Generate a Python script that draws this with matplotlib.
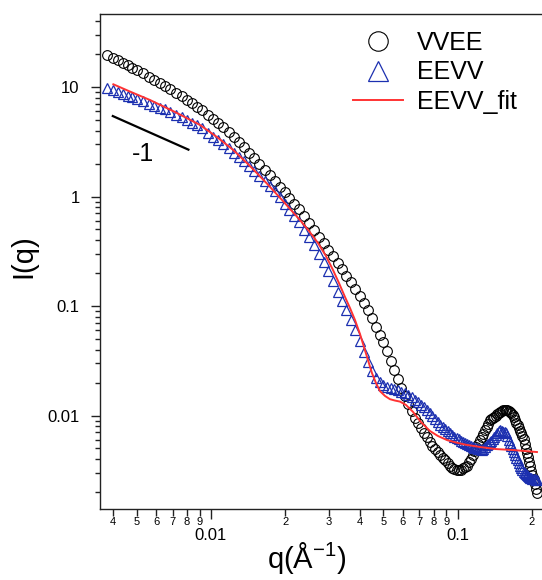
import matplotlib
matplotlib.use('Agg')
import matplotlib.pyplot as plt
from matplotlib.ticker import LogLocator, FuncFormatter, NullFormatter
import numpy as np

plt.rcParams['font.family'] = ['Liberation Sans', 'DejaVu Sans']
plt.rcParams['mathtext.fontset'] = 'custom'
plt.rcParams['mathtext.rm'] = 'Liberation Sans'
plt.rcParams['mathtext.it'] = 'Liberation Sans:italic'

# q (1/A), same grid for both samples
q = [0.0038, 0.0040, 0.0042, 0.0044, 0.0046, 0.0048, 0.0050, 0.0053, 0.0056, 0.0059,
     0.0062, 0.0065, 0.0068, 0.0072, 0.0076, 0.0080, 0.0084, 0.0088, 0.0092, 0.0097,
     0.0102, 0.0107, 0.0112, 0.0118, 0.0124, 0.0130, 0.0136, 0.0143, 0.0150, 0.0157,
     0.0165, 0.0173, 0.0181, 0.0190, 0.0199, 0.0208, 0.0218, 0.0228, 0.0239, 0.0250,
     0.0262, 0.0274, 0.0286, 0.0299, 0.0312, 0.0326, 0.0340, 0.0354, 0.0369, 0.0384,
     0.0400, 0.0416, 0.0432, 0.0449, 0.0466, 0.0483, 0.0500, 0.0518, 0.0536, 0.0554,
     0.0572, 0.0590, 0.0610, 0.0630, 0.0650, 0.0670, 0.0690, 0.0710, 0.0730, 0.0750,
     0.0770, 0.0790, 0.0810, 0.0830, 0.0850, 0.0870, 0.0890, 0.0910, 0.0930, 0.0950,
     0.0970, 0.0990, 0.1010, 0.1030, 0.1050, 0.1070, 0.1090, 0.1110, 0.1130, 0.1150,
     0.1170, 0.1190, 0.1210, 0.1230, 0.1250, 0.1270, 0.1290, 0.1310, 0.1330, 0.1350,
     0.1370, 0.1390, 0.1410, 0.1430, 0.1450, 0.1470, 0.1490, 0.1510, 0.1530, 0.1550,
     0.1570, 0.1590, 0.1610, 0.1630, 0.1650, 0.1670, 0.1690, 0.1710, 0.1730, 0.1750,
     0.1770, 0.1790, 0.1810, 0.1830, 0.1850, 0.1870, 0.1890, 0.1910, 0.1930, 0.1950,
     0.1970, 0.1990, 0.2010, 0.2030, 0.2050, 0.2070, 0.2090]

I_vvee = [19.8, 18.6, 17.6, 16.6, 15.8, 15.0, 14.2, 13.3, 12.4, 11.6,
          10.9, 10.3, 9.67, 8.89, 8.21, 7.62, 7.10, 6.62, 6.17, 5.60,
          5.11, 4.68, 4.30, 3.88, 3.47, 3.12, 2.82, 2.52, 2.24, 1.99,
          1.76, 1.56, 1.39, 1.23, 1.09, 0.971, 0.860, 0.766, 0.664, 0.576,
          0.497, 0.431, 0.377, 0.328, 0.287, 0.248, 0.216, 0.189, 0.164, 0.143,
          0.123, 0.107, 0.0925, 0.0772, 0.0647, 0.0547, 0.0465, 0.0392, 0.0318, 0.0261,
          0.0215, 0.0180, 0.0151, 0.0128, 0.0109, 0.00951, 0.00858, 0.00772, 0.00698, 0.00633,
          0.00576, 0.00527, 0.00491, 0.00462, 0.00436, 0.00411, 0.00389, 0.00367, 0.00349, 0.00331,
          0.00323, 0.00321, 0.00319, 0.00321, 0.00329, 0.00337, 0.00345, 0.00373, 0.00404, 0.00438,
          0.00474, 0.00511, 0.00551, 0.00592, 0.00636, 0.00684, 0.00734, 0.00788, 0.00843, 0.00902,
          0.00931, 0.00953, 0.00979, 0.0100, 0.0103, 0.0105, 0.0108, 0.0110, 0.0112, 0.0112,
          0.0112, 0.0112, 0.0111, 0.0108, 0.0105, 0.0102, 0.00969, 0.00918, 0.00863, 0.00817,
          0.00772, 0.00728, 0.00692, 0.00654, 0.00605, 0.00551, 0.00498, 0.00454, 0.00414, 0.00378,
          0.00344, 0.00314, 0.00289, 0.00262, 0.00236, 0.00215, 0.00195]

I_eevv = [9.79, 9.39, 9.00, 8.65, 8.33, 8.04, 7.77, 7.39, 7.07, 6.76,
          6.50, 6.26, 5.97, 5.60, 5.27, 4.98, 4.71, 4.47, 4.20, 3.84,
          3.53, 3.26, 3.02, 2.75, 2.50, 2.28, 2.09, 1.89, 1.71, 1.54,
          1.38, 1.24, 1.12, 0.985, 0.861, 0.758, 0.661, 0.580, 0.497, 0.426,
          0.359, 0.300, 0.252, 0.210, 0.169, 0.135, 0.110, 0.0912, 0.0748, 0.0600,
          0.0476, 0.0381, 0.0305, 0.0254, 0.0220, 0.0202, 0.0191, 0.0183, 0.0179, 0.0175,
          0.0170, 0.0165, 0.0159, 0.0153, 0.0147, 0.0139, 0.0132, 0.0125, 0.0119, 0.0112,
          0.0105, 0.00981, 0.00921, 0.00865, 0.00815, 0.00782, 0.00750, 0.00720, 0.00694, 0.00666,
          0.00643, 0.00623, 0.00608, 0.00591, 0.00576, 0.00562, 0.00548, 0.00534, 0.00524, 0.00517,
          0.00510, 0.00504, 0.00497, 0.00491, 0.00486, 0.00496, 0.00515, 0.00533, 0.00551, 0.00570,
          0.00590, 0.00611, 0.00638, 0.00664, 0.00691, 0.00716, 0.00734, 0.00723, 0.00713, 0.00703,
          0.00692, 0.00644, 0.00602, 0.00564, 0.00528, 0.00494, 0.00464, 0.00439, 0.00413, 0.00391,
          0.00369, 0.00347, 0.00330, 0.00315, 0.00307, 0.00300, 0.00293, 0.00286, 0.00280, 0.00273,
          0.00268, 0.00266, 0.00265, 0.00263, 0.00261, 0.00260, 0.00258]

# model fit to EEVV
q_fit = [0.00402, 0.00469, 0.00566, 0.00715, 0.00903, 0.01058, 0.01231, 0.01439, 0.01682, 0.01958,
         0.02295, 0.02496, 0.02715, 0.02925, 0.03124, 0.03303, 0.03493, 0.03660, 0.03835, 0.04018,
         0.04171, 0.04329, 0.04494, 0.04665, 0.04842, 0.05073, 0.05315, 0.05569, 0.05837, 0.06171,
         0.06590, 0.07099, 0.07722, 0.08322, 0.09050, 0.09842, 0.1070, 0.1231, 0.1429, 0.1676,
         0.1875, 0.2096]
I_fit = [10.59, 9.10, 7.61, 5.91, 4.50, 3.49, 2.66, 1.90, 1.32, 0.910,
         0.610, 0.484, 0.376, 0.286, 0.213, 0.162, 0.121, 0.0959, 0.0745, 0.0555,
         0.0422, 0.0321, 0.0244, 0.0198, 0.0167, 0.0151, 0.0141, 0.0137, 0.0134, 0.0125,
         0.0108, 0.00872, 0.00722, 0.00650, 0.00597, 0.00567, 0.00543, 0.00516, 0.00494, 0.00484,
         0.00474, 0.00464]

# power law guide, slope -1
q_slope = [0.0040, 0.0081]
I_slope = [5.43, 2.68]

fig = plt.figure(figsize=(5.42, 5.80), dpi=100)
ax = fig.add_axes([0.1845, 0.1229, 0.8155, 0.8529])

ax.plot(q, I_vvee, 'o', mfc='none', mec='black', ms=7, mew=0.8, label='VVEE')
ax.plot(q, I_eevv, '^', mfc='none', mec='#1c30b0', ms=7, mew=0.9, label='EEVV')
ax.plot(q_fit, I_fit, '-', color='#ff3333', lw=1.4, label='EEVV_fit')
ax.plot(q_slope, I_slope, '-', color='black', lw=1.6)
ax.text(0.00532, 2.45, '-1', fontsize=18, ha='center', va='center')

ax.set_xscale('log')
ax.set_yscale('log')
ax.set_xlim(0.003549, 0.2197)
ax.set_ylim(0.001409, 46.4)

# tick labels
ax.xaxis.set_major_locator(LogLocator(base=10))
ax.xaxis.set_minor_locator(LogLocator(base=10, subs=np.arange(2, 10)))
ax.xaxis.set_major_formatter(FuncFormatter(lambda v, p: f"{v:g}"))
ax.xaxis.set_minor_formatter(FuncFormatter(
    lambda v, p: f"{round(v / 10 ** np.floor(np.log10(v) + 1e-9))}"))
ax.yaxis.set_major_locator(LogLocator(base=10))
ax.yaxis.set_minor_locator(LogLocator(base=10, subs=np.arange(2, 10)))
ax.yaxis.set_major_formatter(FuncFormatter(lambda v, p: f"{v:g}"))
ax.yaxis.set_minor_formatter(NullFormatter())

ax.tick_params(axis='x', which='major', direction='out', length=7, width=1,
               labelsize=12, pad=7, colors='#222222', labelcolor='black')
ax.tick_params(axis='x', which='minor', direction='out', length=4.8, width=1,
               labelsize=8, pad=1.2, colors='#222222', labelcolor='black')
ax.tick_params(axis='y', which='major', direction='out', length=6.7, width=1,
               labelsize=12, pad=8, colors='#222222', labelcolor='black')
ax.tick_params(axis='y', which='minor', direction='out', length=3.8, width=1,
               colors='#222222')

for side in ['left', 'bottom', 'top']:
    ax.spines[side].set_color('#222222')
    ax.spines[side].set_linewidth(1.0)
ax.spines['right'].set_visible(False)

ax.set_xlabel('q(Å$^{\\mathrm{-1}}$)', fontsize=21)
ax.set_ylabel('I(q)', fontsize=21)
ax.xaxis.set_label_coords(0.468, -0.063)
ax.yaxis.set_label_coords(-0.142, 0.511)

ax.legend(loc='upper left', bbox_to_anchor=(0.5724, 0.966), frameon=False,
          fontsize=18, markerscale=2.0, handlelength=2.0, handletextpad=0.56,
          labelspacing=0.22, borderpad=0, borderaxespad=0)

fig.savefig('out.png', dpi=100)
